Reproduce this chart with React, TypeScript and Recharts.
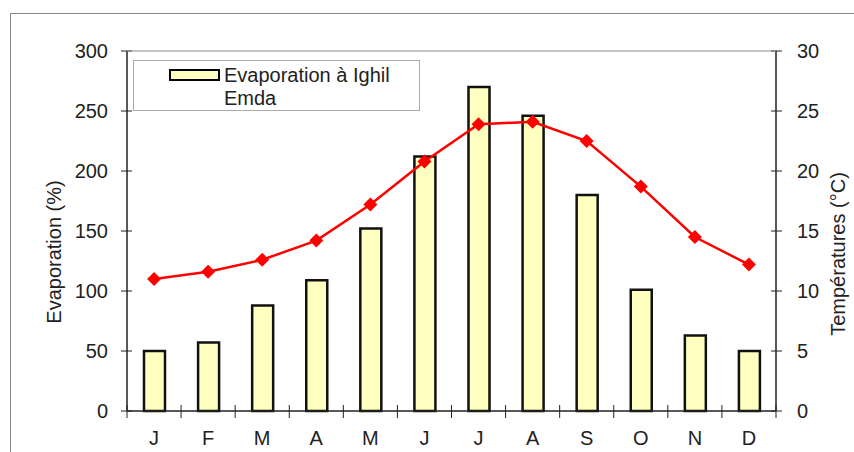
import {
  ComposedChart,
  Bar,
  Line,
  XAxis,
  YAxis,
  Legend,
  Label,
} from 'recharts';

const months = ['J', 'F', 'M', 'A', 'M', 'J', 'J', 'A', 'S', 'O', 'N', 'D'];
const evaporation = [50, 57, 88, 109, 152, 212, 270, 246, 180, 101, 63, 50];
const temperature = [11.0, 11.6, 12.6, 14.2, 17.2, 20.8, 23.9, 24.1, 22.5, 18.7, 14.5, 12.2];
const leftTicks = [0, 50, 100, 150, 200, 250, 300];
const rightTicks = [0, 5, 10, 15, 20, 25, 30];

const data = months.map((m, i) => ({
  month: m,
  evaporation: evaporation[i],
  temperature: temperature[i],
}));

const FONT = 'Arial, "Liberation Sans", sans-serif';
const TEXT = '#222';
const BAR_FILL = '#ffffc0';

const LeftTick = (props: any) => {
  const { x, y, payload } = props;
  return (
    <g>
      <line x1={x - 6} x2={x + 5} y1={y} y2={y} stroke="#222" strokeWidth={1} />
      <text x={x - 19} y={y + 7} textAnchor="end" fontSize={20} fontFamily={FONT} fill={TEXT}>
        {payload.value}
      </text>
    </g>
  );
};

const RightTick = (props: any) => {
  const { x, y, payload } = props;
  return (
    <g>
      <line x1={x - 5} x2={x + 6} y1={y} y2={y} stroke="#222" strokeWidth={1} />
      <text x={x + 21} y={y + 7} textAnchor="start" fontSize={20} fontFamily={FONT} fill={TEXT}>
        {payload.value}
      </text>
    </g>
  );
};

const MonthTick = (props: any) => {
  const { x, y, payload, index } = props;
  const half = payload.offset ?? 27;
  return (
    <g>
      <line x1={x - half} x2={x - half} y1={y - 6} y2={y + 7} stroke="#222" strokeWidth={1} />
      {index === months.length - 1 && (
        <line x1={x + half} x2={x + half} y1={y - 6} y2={y + 7} stroke="#222" strokeWidth={1} />
      )}
      <text x={x} y={y + 34} textAnchor="middle" fontSize={20} fontFamily={FONT} fill={TEXT}>
        {payload.value}
      </text>
    </g>
  );
};

const Diamond = (props: any) => {
  const { cx, cy } = props;
  if (cx == null || cy == null) return null;
  const r = 7;
  return (
    <path
      d={`M${cx},${cy - r}L${cx + r},${cy}L${cx},${cy + r}L${cx - r},${cy}Z`}
      fill="#ff0000"
      stroke="none"
    />
  );
};

const LegendBox = () => (
  <div
    style={{
      width: 287,
      height: 51,
      border: '1px solid #aaa',
      background: '#fff',
      boxSizing: 'border-box',
      fontFamily: FONT,
      fontSize: 20,
      color: TEXT,
      position: 'relative',
    }}
  >
    <div
      style={{
        position: 'absolute',
        left: 35,
        top: 8,
        width: 47,
        height: 8,
        background: BAR_FILL,
        border: '2px solid #000',
      }}
    />
    <div
      style={{
        position: 'absolute',
        left: 90,
        top: 3,
        width: 190,
        lineHeight: '23px',
        textAlign: 'left',
      }}
    >
      Evaporation à Ighil Emda
    </div>
  </div>
);

export default function App() {
  return (
    <div style={{ position: 'absolute', left: 0, top: 0, width: 854, height: 452, background: '#fff' }}>
      <div
        style={{
          position: 'absolute',
          left: 10,
          top: 13,
          width: 860,
          height: 460,
          border: '1px solid #888',
          boxSizing: 'border-box',
        }}
      />
      <ComposedChart
        width={854}
        height={452}
        data={data}
        margin={{ top: 51, right: 0, bottom: 0, left: 0 }}
        style={{ position: 'absolute', left: 0, top: 0 }}
      >
        <XAxis
          dataKey="month"
          height={41}
          interval={0}
          tickSize={0}
          tickMargin={0}
          tickLine={false}
          axisLine={{ stroke: '#222', strokeWidth: 1.5 }}
          tick={<MonthTick />}
        />
        <YAxis
          yAxisId="left"
          width={127}
          domain={[0, 300]}
          ticks={leftTicks}
          tickSize={0}
          tickMargin={0}
          tickLine={false}
          axisLine={{ stroke: '#222', strokeWidth: 1.5 }}
          tick={<LeftTick />}
        >
          <Label
            content={() => (
              <text
                x={0}
                y={0}
                transform="translate(61,252) rotate(-90)"
                textAnchor="middle"
                fontSize={20}
                fontFamily={FONT}
                fill={TEXT}
              >
                Evaporation (%)
              </text>
            )}
          />
        </YAxis>
        <YAxis
          yAxisId="right"
          orientation="right"
          width={78}
          domain={[0, 30]}
          ticks={rightTicks}
          tickSize={0}
          tickMargin={0}
          tickLine={false}
          axisLine={{ stroke: '#222', strokeWidth: 1.5 }}
          tick={<RightTick />}
        >
          <Label
            content={() => (
              <text
                x={0}
                y={0}
                transform="translate(845,254) rotate(-90)"
                textAnchor="middle"
                fontSize={20}
                fontFamily={FONT}
                fill={TEXT}
              >
                Températures (°C)
              </text>
            )}
          />
        </YAxis>
        <Legend
          layout="horizontal"
          verticalAlign="middle"
          align="center"
          wrapperStyle={{ left: 133, top: 60, width: 287, height: 51 }}
          content={<LegendBox />}
        />
        <Bar
          yAxisId="left"
          dataKey="evaporation"
          name="Evaporation à Ighil Emda"
          fill={BAR_FILL}
          stroke="#111"
          strokeWidth={2.5}
          barSize={21}
          isAnimationActive={false}
        />
        <Line
          yAxisId="right"
          dataKey="temperature"
          type="linear"
          stroke="#ff0000"
          strokeWidth={2.5}
          dot={<Diamond />}
          activeDot={false}
          legendType="none"
          isAnimationActive={false}
        />
      </ComposedChart>
      <svg
        width={854}
        height={452}
        style={{ position: 'absolute', left: 0, top: 0, pointerEvents: 'none' }}
      >
        <line x1={127} x2={776} y1={51} y2={51} stroke="#888" strokeWidth={1} />
      </svg>
    </div>
  );
}
